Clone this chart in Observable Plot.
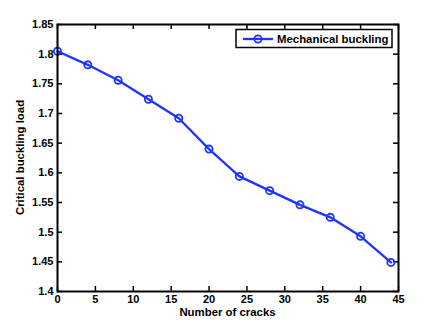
<!DOCTYPE html>
<html>
<head>
<meta charset="utf-8">
<script src="https://cdn.jsdelivr.net/npm/d3@7"></script>
<script src="https://cdn.jsdelivr.net/npm/@observablehq/plot@0.6"></script>
<style>
  html, body { margin: 0; padding: 0; background: #fff; }
  #chart { width: 438px; height: 328px; }
  svg { font-family: "Liberation Sans", Arial, sans-serif; }
</style>
</head>
<body>
<div id="chart"></div>
<script>
const cracks = [0, 4, 8, 12, 16, 20, 24, 28, 32, 36, 40, 44];
const bucklingLoad = [1.805, 1.782, 1.756, 1.724, 1.692, 1.640, 1.594, 1.570, 1.546, 1.525, 1.493, 1.449];
const xTicks = [0, 5, 10, 15, 20, 25, 30, 35, 40, 45];
const yTicks = [1.4, 1.45, 1.5, 1.55, 1.6, 1.65, 1.7, 1.75, 1.8, 1.85];
const seriesName = "Mechanical buckling";
const xLabel = "Number of cracks";
const yLabel = "Critical buckling load";

const data = cracks.map((c, i) => ({x: c, y: bucklingLoad[i]}));

const W = 438, H = 328;
const mL = 57, mR = 40, mT = 24, mB = 37;
const pw = W - mL - mR, ph = H - mT - mB;
const tick = 5;
const blue = "#1f35ff";
const fs = 11.4;

const plot = Plot.plot({
  width: W, height: H,
  marginLeft: mL, marginRight: mR, marginTop: mT, marginBottom: mB,
  style: {fontFamily: "Liberation Sans, Arial, sans-serif", fontSize: "11px", fontWeight: "bold", color: "#000", background: "#fff"},
  x: {domain: [0, 45]},
  y: {domain: [1.4, 1.85]},
  marks: [
    Plot.axisX(xTicks, {tickSize: 0, tickPadding: 4, label: null, fontSize: 11, fontWeight: "bold", fill: "#000"}),
    Plot.axisY(yTicks, {tickSize: 0, tickPadding: 4, label: null, fontSize: 11, fontWeight: "bold", fill: "#000", tickFormat: d => String(d)}),
    Plot.tickX(xTicks, {x: d => d, insetTop: ph - tick, stroke: "#000", strokeWidth: 1.5}),
    Plot.tickX(xTicks, {x: d => d, insetBottom: ph - tick, stroke: "#000", strokeWidth: 1.5}),
    Plot.tickY(yTicks, {y: d => d, insetRight: pw - tick, stroke: "#000", strokeWidth: 1.5}),
    Plot.tickY(yTicks, {y: d => d, insetLeft: pw - tick, stroke: "#000", strokeWidth: 1.5}),
    Plot.line(data, {x: "x", y: "y", stroke: blue, strokeWidth: 2.3}),
    Plot.dot(data, {x: "x", y: "y", r: 3.6, stroke: blue, strokeWidth: 1.8, fill: "none"}),
    Plot.frame({stroke: "#000", strokeWidth: 2})
  ]
});

const svg = d3.select(plot);
svg.append("text")
  .attr("x", mL + pw / 2).attr("y", 316)
  .attr("text-anchor", "middle")
  .attr("font-size", fs).attr("font-weight", "bold").attr("fill", "#000")
  .text(xLabel);
svg.append("text")
  .attr("transform", `translate(24,${mT + ph / 2}) rotate(-90)`)
  .attr("text-anchor", "middle")
  .attr("font-size", fs).attr("font-weight", "bold").attr("fill", "#000")
  .text(yLabel);

const lg = svg.append("g");
lg.append("rect").attr("x", 236).attr("y", 29.5).attr("width", 156).attr("height", 18)
  .attr("fill", "#fff").attr("stroke", "#000").attr("stroke-width", 1.5);
lg.append("line").attr("x1", 243).attr("x2", 273).attr("y1", 39).attr("y2", 39)
  .attr("stroke", blue).attr("stroke-width", 2.3);
lg.append("circle").attr("cx", 258).attr("cy", 39).attr("r", 3.6)
  .attr("fill", "none").attr("stroke", blue).attr("stroke-width", 1.8);
lg.append("text").attr("x", 277).attr("y", 43)
  .attr("text-anchor", "start")
  .attr("font-size", fs).attr("font-weight", "bold").attr("fill", "#000")
  .text(seriesName);

document.getElementById("chart").appendChild(plot);
</script>
</body>
</html>
